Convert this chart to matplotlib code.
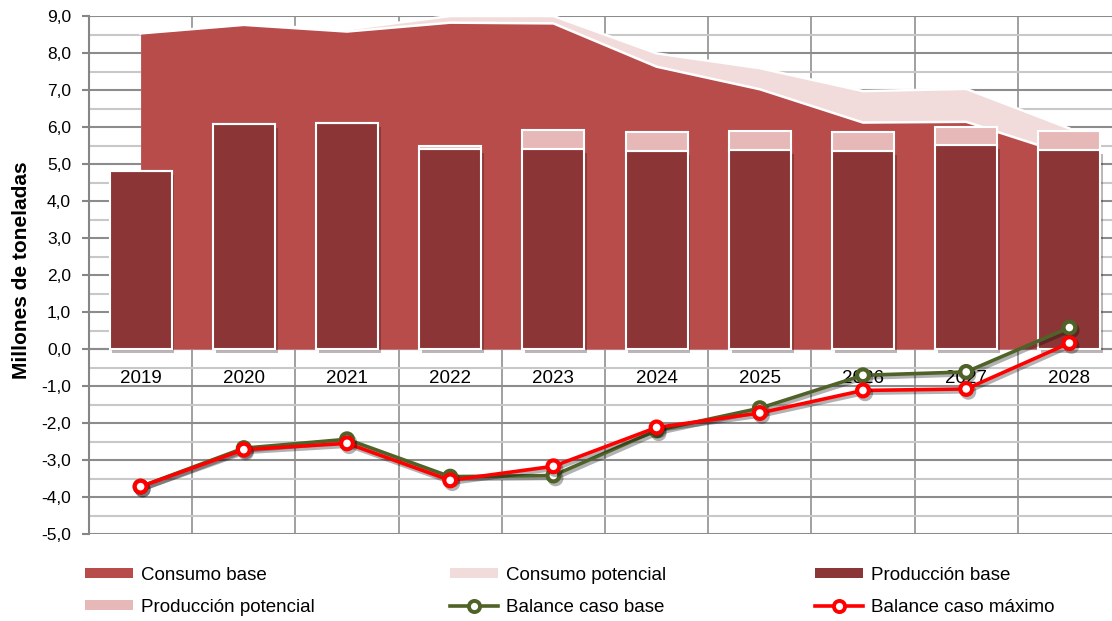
import matplotlib
matplotlib.use('Agg')
import matplotlib.pyplot as plt
import matplotlib.patheffects as pe
from matplotlib.patches import Patch
from matplotlib.lines import Line2D
from matplotlib.ticker import MultipleLocator, FixedLocator, FuncFormatter

# datos (millones de toneladas)
anios = ['2019', '2020', '2021', '2022', '2023', '2024', '2025', '2026', '2027', '2028']
consumo_base = [8.53, 8.76, 8.58, 8.82, 8.80, 7.63, 7.02, 6.12, 6.14, 5.24]
consumo_potencial = [8.53, 8.76, 8.64, 9.00, 9.00, 7.99, 7.59, 6.97, 7.03, 5.96]
produccion_base = [4.82, 6.08, 6.12, 5.40, 5.41, 5.36, 5.37, 5.36, 5.51, 5.39]
produccion_potencial = [4.82, 6.08, 6.12, 5.50, 5.92, 5.87, 5.90, 5.86, 6.01, 5.88]
balance_base = [-3.72, -2.68, -2.44, -3.45, -3.42, -2.20, -1.60, -0.71, -0.62, 0.58]
balance_maximo = [-3.72, -2.72, -2.55, -3.55, -3.17, -2.12, -1.73, -1.12, -1.08, 0.16]

c_cons_base = '#B84C4B'
c_cons_pot = '#F2DCDB'
c_prod_base = '#8B3536'
c_prod_pot = '#E6B9B8'
c_bal_base = '#4F6228'
c_bal_max = '#FF0000'

plt.rcParams['font.family'] = ['Liberation Sans', 'DejaVu Sans']

W, H = 1112, 621
fig = plt.figure(figsize=(W / 100, H / 100), dpi=100)
ax = fig.add_axes([89 / W, 1 - 534 / H, 1032 / W, 518 / H])

x = list(range(len(anios)))

# areas de consumo
ax.fill_between(x, 0, consumo_potencial, color=c_cons_pot, lw=0, zorder=1)
ax.plot(x, consumo_potencial, color='white', lw=1.8, zorder=1.1)
ax.fill_between(x, 0, consumo_base, color=c_cons_base, lw=0, zorder=1.2)
ax.plot(x, consumo_base, color='white', lw=1.8, zorder=1.3)

# barras de produccion
sombra = [pe.SimplePatchShadow(offset=(2, -3), alpha=0.3), pe.Normal()]
extra = [p - b for p, b in zip(produccion_potencial, produccion_base)]
ax.bar(x, produccion_base, width=0.6, color=c_prod_base, edgecolor='white',
       lw=1.5, zorder=3, path_effects=sombra)
ax.bar(x, extra, bottom=produccion_base, width=0.6, color=c_prod_pot,
       edgecolor='white', lw=1.5, zorder=3)

# balances
sombra_l = [pe.SimpleLineShadow(offset=(1.5, -2), alpha=0.3), pe.Normal()]
ax.plot(x, balance_base, color=c_bal_base, lw=2.6, marker='o', ms=8.5,
        mfc='white', mec=c_bal_base, mew=3, zorder=4, path_effects=sombra_l)
ax.plot(x, balance_maximo, color=c_bal_max, lw=2.6, marker='o', ms=8.5,
        mfc='white', mec=c_bal_max, mew=3, zorder=5, path_effects=sombra_l)

# ejes
ax.set_xlim(-0.5, len(anios) - 0.5)
ax.set_ylim(-5, 9)
ax.yaxis.set_major_locator(MultipleLocator(1))
ax.yaxis.set_minor_locator(MultipleLocator(0.5))
ax.yaxis.set_major_formatter(FuncFormatter(lambda v, p: f'{v:.1f}'.replace('.', ',')))
ax.set_xticks(x)
ax.set_xticklabels(anios)
ax.xaxis.set_minor_locator(FixedLocator([i + 0.5 for i in x[:-1]]))

ax.set_axisbelow(True)
ax.grid(which='major', axis='y', color='#8C8C8C', lw=1.5)
ax.grid(which='minor', axis='y', color='#C8C8C8', lw=1.5)
ax.grid(which='minor', axis='x', color='#999999', lw=1.3)

ax.tick_params(axis='y', which='major', labelsize=12.5, length=5, width=1.5,
               color='#868686', pad=8)
ax.tick_params(axis='y', which='minor', length=0)
ax.tick_params(axis='x', which='both', length=0, labelsize=13.5, pad=15)

for s in ['top', 'right']:
    ax.spines[s].set_visible(False)
ax.spines['left'].set_color('#868686')
ax.spines['left'].set_linewidth(1.5)
ax.spines['bottom'].set_position(('data', 0))
ax.spines['bottom'].set_color('#8C8C8C')
ax.spines['bottom'].set_linewidth(1.5)
ax.spines['bottom'].set_zorder(0.8)

fig.text(22 / W, 1 - 270 / H, 'Millones de toneladas', rotation=90,
         fontsize=15, fontweight='bold', ha='center', va='center')

# leyenda en tres columnas
h_cb = Patch(facecolor=c_cons_base)
h_cp = Patch(facecolor=c_cons_pot)
h_pb = Patch(facecolor=c_prod_base)
h_pp = Patch(facecolor=c_prod_pot)
h_bb = Line2D([], [], color=c_bal_base, lw=2.6, marker='o', ms=8, mfc='white',
              mec=c_bal_base, mew=2.8)
h_bm = Line2D([], [], color=c_bal_max, lw=2.6, marker='o', ms=8, mfc='white',
              mec=c_bal_max, mew=2.8)

columnas = [
    (85, [h_cb, h_pp], ['Consumo base', 'Producción potencial']),
    (450, [h_cp, h_bb], ['Consumo potencial', 'Balance caso base']),
    (815, [h_pb, h_bm], ['Producción base', 'Balance caso máximo']),
]
for xc, hs, ls in columnas:
    fig.legend(hs, ls, loc='center left', bbox_to_anchor=(xc / W, 1 - 591 / H),
               frameon=False, fontsize=13.5, handlelength=2.55, handleheight=0.5,
               handletextpad=0.42, labelspacing=0.8, borderpad=0,
               borderaxespad=0)

fig.savefig('out.png', dpi=100)
